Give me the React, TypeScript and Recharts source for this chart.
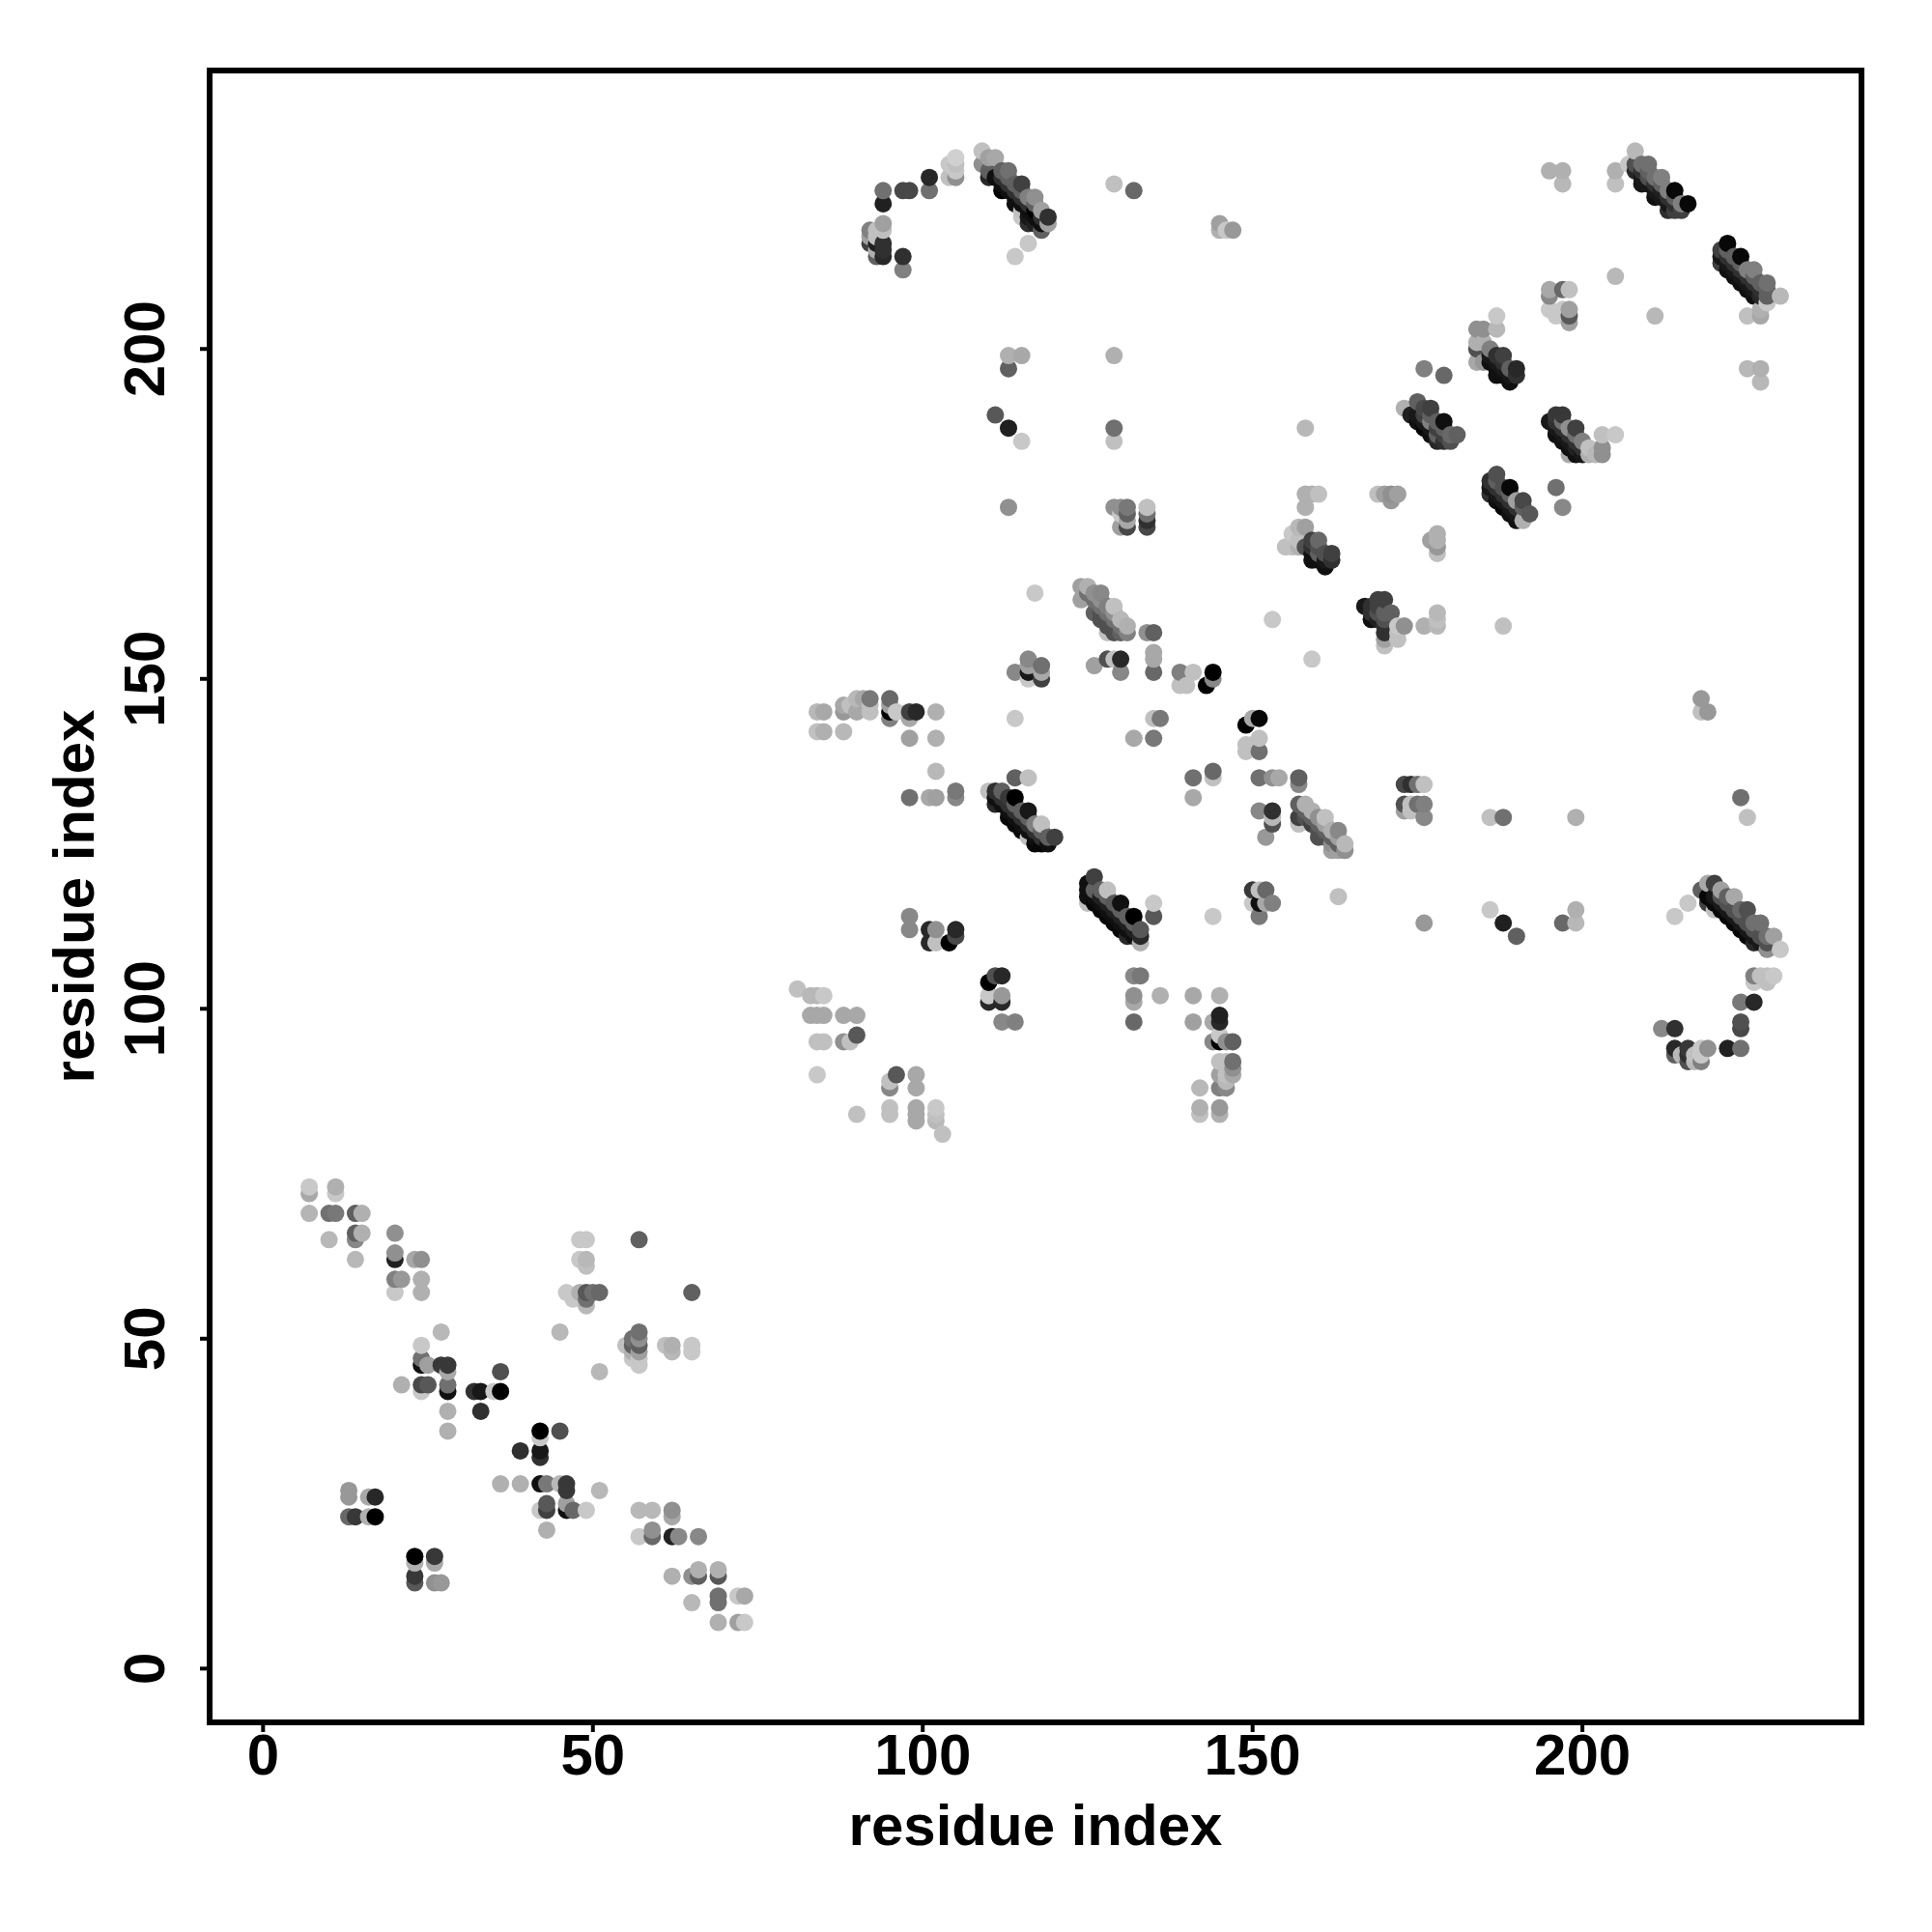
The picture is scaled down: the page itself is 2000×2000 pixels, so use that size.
import React from "react";
import { ScatterChart, Scatter, XAxis, YAxis, Cell, Label, ReferenceArea } from "recharts";

// Each contact: [residue i, residue j, shade 0 (black) .. 255 (white)]
type Contact = [number, number, number];

// Estimated contacts inside the dense diagonal bands, mostly covered by later points
const contactsBands: Contact[] = [
  [111,226,0x10],[112,225,0x10],[113,224,0x10],[114,223,0x10],[115,222,0x10],[116,221,0x10],[117,220,0x10],[118,219,0x10],
  [112,226,0x30],[113,225,0x30],[114,224,0x30],[115,223,0x30],[116,222,0x30],[117,221,0x30],[118,220,0x30],
  [113,226,0x60],[114,225,0x60],[115,224,0x60],[116,223,0x60],[117,222,0x60],[118,221,0x60],
  [209,226,0x18],[210,225,0x18],[211,224,0x18],[212,223,0x18],[213,222,0x18],[214,221,0x18],
  [209,227,0x30],[211,225,0x30],[212,224,0x30],[213,223,0x30],[214,222,0x30],[215,221,0x30],
  [210,227,0x60],[212,225,0x60],[213,224,0x60],[214,223,0x60],[215,222,0x60],
  [222,212,0x10],[224,210,0x10],[226,208,0x10],
  [221,214,0x18],[222,213,0x18],[223,212,0x18],[224,211,0x18],[225,210,0x18],[226,209,0x18],[227,208,0x18],
  [221,215,0x30],[222,214,0x30],[223,213,0x30],[224,212,0x30],[225,211,0x30],[226,210,0x30],[227,209,0x30],
  [222,215,0x60],[223,214,0x60],[224,213,0x60],[225,212,0x60],[226,211,0x60],[227,210,0x60],[228,209,0x60],
  [186,198,0x10],[187,197,0x10],[188,196,0x10],[189,195,0x10],
  [186,199,0x18],[187,198,0x18],[188,197,0x18],[189,196,0x18],
  [187,199,0x30],[188,198,0x30],[189,197,0x30],[190,196,0x30],
  [174,190,0x10],[175,189,0x10],[176,188,0x10],[177,187,0x10],[178,186,0x10],
  [175,190,0x18],[176,189,0x18],[177,188,0x18],[178,187,0x18],[179,186,0x18],
  [176,190,0x40],[177,189,0x40],[178,188,0x40],[179,187,0x40],[180,186,0x40],
  [177,190,0x60],[178,189,0x60],[179,188,0x60],[180,187,0x60],
  [196,187,0x10],[197,186,0x10],[198,185,0x10],[199,184,0x10],
  [195,189,0x18],[196,188,0x18],[197,187,0x18],[198,186,0x18],[199,185,0x18],[200,184,0x18],
  [196,189,0x30],[197,188,0x30],[198,187,0x30],[199,186,0x30],[200,185,0x30],
  [197,189,0x70],[198,188,0x70],[199,187,0x70],[200,186,0x70],
  [186,178,0x10],[187,177,0x10],[188,176,0x10],[189,175,0x10],[190,174,0x10],
  [186,179,0x18],[187,178,0x18],[188,177,0x18],[189,176,0x18],[190,175,0x18],[191,174,0x18],
  [186,180,0x30],[187,179,0x30],[188,178,0x30],[189,177,0x30],[190,176,0x30],
  [187,180,0x60],[188,179,0x60],[189,178,0x60],[190,177,0x60],[191,176,0x60],
  [159,169,0x10],[160,168,0x10],[159,170,0x30],[161,169,0x50],[160,170,0x50],
  [168,160,0x30],[169,159,0x20],[169,160,0x50],[170,158,0x30],[170,159,0x50],[169,161,0x40],
  [113,129,0x08],[114,128,0x08],[115,127,0x08],[116,126,0x08],[117,125,0x08],
  [111,132,0x10],[112,131,0x10],[113,130,0x10],[114,129,0x10],[115,128,0x10],[116,127,0x10],[117,126,0x10],[118,125,0x10],
  [112,132,0x30],[113,131,0x30],[114,130,0x30],[115,129,0x30],[116,128,0x30],[117,127,0x30],[118,126,0x30],[119,125,0x30],
  [114,131,0x60],[115,130,0x60],[116,129,0x60],[117,128,0x60],[118,127,0x60],[119,126,0x60],
  [125,117,0x08],[126,116,0x08],[127,115,0x08],[128,114,0x08],[129,113,0x08],[130,112,0x08],[131,111,0x08],
  [125,118,0x10],[126,117,0x10],[127,116,0x10],[128,115,0x10],[129,114,0x10],[130,113,0x10],[131,112,0x10],[132,111,0x10],
  [126,118,0x20],[127,117,0x20],[128,116,0x20],[129,115,0x20],[130,114,0x20],[131,113,0x20],[132,112,0x20],[133,111,0x20],
  [127,118,0x60],[128,117,0x60],[129,116,0x60],[130,115,0x60],[131,114,0x60],[132,113,0x60],
  [219,117,0x08],[220,116,0x08],[221,115,0x08],[222,114,0x08],[223,113,0x08],[224,112,0x08],[225,111,0x08],[226,110,0x08],
  [220,117,0x18],[221,116,0x18],[222,115,0x18],[223,114,0x18],[224,113,0x18],[225,112,0x18],[226,111,0x18],[227,110,0x18],
  [221,117,0x50],[222,116,0x50],[223,115,0x50],[224,114,0x50],[225,113,0x50],[226,112,0x50],[227,111,0x50],[228,110,0x50],
  [222,117,0x70],[224,115,0x70],[226,113,0x70],[228,111,0x70],
  [127,160,0x50],[128,159,0x50],[129,158,0x50],[125,163,0x70],[126,162,0x70],[127,161,0x70],[128,160,0x70],[129,159,0x70],[130,158,0x70],
  [126,163,0x90],[127,162,0x90],[128,161,0x90],[129,160,0x90],[130,159,0x90],[131,158,0x90],
  [158,130,0x60],[159,129,0x60],[160,128,0x60],[161,127,0x60],[162,126,0x60],[163,125,0x60],[164,124,0x60],
  [158,129,0x50],[159,128,0x50],[160,127,0x50],[161,126,0x50],[162,125,0x50],
  [160,129,0xa0],[161,128,0xa0],[162,127,0xa0],[163,126,0xa0],[164,125,0xa0],
];

const contactsN1: Contact[] = [
  [7,73,0xc8],[7,72,0xa8],[7,69,0xb5],[10,69,0x70],[11,69,0x78],[11,73,0xb0],[11,72,0xc8],[14,69,0x60],[15,69,0xb0],
  [10,65,0xb8],[14,66,0x60],[15,66,0xb0],[14,65,0x88],[14,62,0xb8],[20,66,0x90],[20,63,0x90],[20,62,0x20],[23,62,0xa8],[24,62,0x90],
  [20,59,0x80],[21,59,0x98],[24,59,0xb0],[24,57,0xb0],[20,57,0xc8],
  [48,65,0xc8],[49,65,0xc8],[48,62,0xc8],[49,62,0xb8],[49,61,0xc0],[46,57,0xc8],[47,56,0xc8],[48,57,0xb0],[49,57,0x58],[49,55,0xb8],[50,57,0x70],[51,57,0x68],[49,56,0x70],
  [57,65,0x60],[65,57,0x60],[45,51,0xb8],[55,49,0xc0],[56,50,0x70],[56,49,0x60],[56,48,0xb0],[57,51,0x70],[57,50,0x90],[57,49,0x60],[57,48,0xa0],[56,47,0xc8],[57,47,0xc8],[57,46,0xc8],
  [61,49,0xc0],[62,49,0xb0],[62,48,0xb8],[65,49,0xc8],[65,48,0xc8],[51,45,0xb8],
];
const contactsN2: Contact[] = [
  [27,51,0xb8],[24,49,0xc8],[24,47,0x70],[24,46,0x10],[25,46,0xa0],[27,46,0x38],[28,46,0x38],[28,45,0xa8],[21,43,0xb0],[24,43,0x48],[25,43,0x58],[24,42,0xc8],[28,43,0x70],[28,42,0x10],[28,39,0xb0],[28,36,0xb0],
  [32,42,0x30],[33,42,0x18],[35,42,0xc8],[36,42,0x00],[36,45,0x50],[33,39,0x30],[42,36,0x00],[45,36,0x50],[42,35,0xc8],[42,33,0x18],[42,32,0x30],[39,33,0x30],
  [36,28,0xb0],[39,28,0xb0],[42,28,0x10],[43,28,0x78],[45,28,0xb8],[46,28,0x38],[46,27,0x38],[51,27,0xb8],[43,25,0x58],[43,24,0x40],[42,24,0xc8],[46,25,0xa0],[46,24,0x10],[47,24,0x68],[49,24,0xc8],[43,21,0xb0],
  [57,24,0xb8],[59,24,0xb8],[62,24,0x90],[62,23,0xa8],[57,20,0xc8],[59,21,0x90],[59,20,0x68],[62,20,0x20],[63,20,0x88],[66,20,0x88],
  [62,14,0xb0],[65,14,0x90],[66,14,0x60],[66,15,0xb0],[69,15,0xb0],[69,14,0x58],[65,10,0xb8],[69,11,0x70],[69,10,0x70],[72,11,0xc8],[73,11,0xa8],[69,7,0xb0],[72,7,0xa0],[73,7,0xc8],
  [13,27,0x98],[13,26,0x98],[16,26,0xa8],[17,26,0x28],[13,23,0x68],[14,23,0x38],[16,23,0xb0],[17,23,0x00],
  [23,17,0x00],[26,17,0x38],[23,16,0xb0],[26,16,0xa8],[23,14,0x38],[23,13,0x58],[26,13,0x90],[27,13,0x98],
];
const contactsMid1: Contact[] = [
  [81,103,0xc0],[83,102,0xb8],[84,102,0xb8],[85,102,0xc8],[83,99,0xa8],[84,99,0xa8],[85,99,0xa8],[88,99,0xa8],[90,99,0xa8],
  [84,95,0xc0],[85,95,0xc0],[88,95,0x90],[89,95,0xc0],[90,96,0x58],[84,90,0xc8],[95,89,0xc0],[96,90,0x58],[95,88,0x88],[99,90,0xa8],[99,88,0xa8],
  [90,84,0xc0],[95,85,0xc0],[95,84,0xc0],[99,85,0xa8],[99,84,0xa8],[99,83,0xa8],[102,85,0xc8],[102,84,0xc0],[102,83,0xb8],[103,81,0xc0],
  [111,105,0x50],[112,105,0x28],[110,104,0x00],[110,102,0xc8],[112,102,0x98],[110,101,0x28],[112,101,0x28],[112,98,0x88],[114,98,0x80],
  [132,105,0x88],[133,105,0x78],[132,102,0x90],[132,101,0xa8],[132,98,0x68],[136,102,0xb0],[141,102,0xa8],[145,102,0xb0],
  [141,98,0xa0],[144,98,0xa8],[145,99,0x20],[145,98,0x28],[145,96,0xc8],[144,95,0x88],[145,95,0x00],[146,95,0x90],[147,95,0x60],
  [145,92,0xc0],[146,92,0xc0],[147,92,0x70],[147,91,0x90],[147,90,0xa8],[145,90,0xa0],[146,90,0xc0],[146,89,0xb8],[142,88,0xb8],[145,88,0x80],[146,88,0x88],
  [142,85,0xb0],[145,85,0x98],[142,84,0xc0],[145,84,0xb0],
  [84,145,0xb8],[85,145,0xa8],[84,142,0xc0],[85,142,0xb0],[88,142,0xb8],[88,146,0xa8],[88,145,0x98],[89,146,0xc0],[90,147,0xb8],[90,145,0xa8],[91,147,0xa8],[92,147,0x78],[92,145,0xc0],[92,146,0xc0],
  [95,147,0x68],[95,146,0xa0],[95,145,0x00],[95,144,0x80],[96,145,0xc8],[98,145,0x40],[99,145,0x28],[98,144,0xa8],[102,145,0xb0],[98,141,0xa0],[102,141,0xb0],[102,136,0xb8],
  [98,132,0x70],[101,132,0xa8],[102,132,0xa0],[105,133,0x78],[105,132,0x88],[114,144,0xc8],
  [98,114,0x88],[98,112,0x88],[101,112,0x28],[102,112,0x90],[101,110,0x28],[102,110,0xc0],[104,110,0x00],[105,112,0x28],[105,111,0x48],
];
const contactsTop: Contact[] = [
  [94,224,0x70],[94,222,0x20],[97,224,0x48],[98,224,0x48],[101,224,0x70],[101,226,0x28],[104,228,0xc8],[105,229,0xd0],[104,226,0xc0],[105,228,0xc0],[105,227,0xc8],[105,226,0x90],
  [109,230,0xc0],[109,228,0x90],[110,229,0xa0],[111,229,0xa8],[110,227,0x60],[110,226,0x28],[112,227,0x60],[113,227,0x70],[112,224,0x00],[112,225,0x10],[114,225,0x60],[115,225,0x40],[114,222,0x10],
  [116,223,0x80],[117,223,0x90],[118,221,0xa0],[119,220,0x30],[119,219,0xa0],[118,218,0x60],[116,219,0x30],[117,219,0x20],[115,221,0xc0],[115,220,0xc8],[116,220,0x18],[117,221,0x00],[116,216,0xc8],[114,214,0xc8],
  [92,218,0x80],[92,217,0xa0],[92,216,0x40],[93,218,0xc0],[94,219,0xa0],[94,218,0xc0],[93,217,0xc0],[93,216,0x20],[93,215,0xb0],[93,214,0x60],[94,216,0x30],[94,215,0x30],[94,214,0x28],[97,214,0x30],[97,212,0x80],
  [129,225,0xc0],[132,224,0x68],[145,219,0xa0],[145,218,0xb0],[146,218,0xc8],[147,218,0x98],
  [113,199,0xb0],[115,199,0xa8],[113,197,0x60],[129,199,0xb0],[111,190,0x58],[113,188,0x20],[115,186,0xc8],[129,188,0x70],[129,186,0xc0],[113,176,0x90],
  [129,176,0x90],[130,176,0x90],[131,176,0x78],[130,175,0xc8],[131,175,0x60],[130,173,0xa0],[131,174,0xa8],[131,173,0x48],[134,176,0xc0],[134,175,0x70],[134,174,0x30],[134,173,0x48],
];
const contactsUpperRight: Contact[] = [
  [208,230,0xb8],[207,228,0xc8],[205,227,0xb0],[205,225,0xc0],[195,227,0xb0],[197,227,0xb0],[197,225,0xb8],
  [208,228,0x50],[208,227,0x28],[209,228,0x70],[210,228,0x70],[209,225,0x18],[211,223,0x10],[212,226,0x80],[210,226,0x50],[211,226,0x70],[213,224,0x80],[214,224,0x08],[213,221,0x30],[214,221,0x40],[215,221,0x40],[216,222,0x08],[215,222,0x80],[212,224,0x20],
  [222,216,0x08],[221,215,0x40],[221,213,0x40],[224,214,0x08],[223,214,0x60],[225,212,0x80],[226,212,0x80],[223,211,0x10],[225,209,0x10],[228,210,0x70],[227,208,0x28],[228,208,0x60],[230,208,0xb8],[228,207,0xc8],[227,205,0xa8],[225,205,0xc0],[227,206,0xb0],[211,205,0xb8],[205,211,0xb8],
  [225,197,0xb8],[227,197,0xb0],[227,195,0xb8],
  [195,209,0xa8],[197,209,0x68],[198,209,0xc0],[195,208,0x88],[195,206,0xc8],[196,205,0xc8],[197,206,0xc8],[198,206,0xa0],[198,205,0x58],[198,204,0xa0],
  [187,205,0xc8],[187,203,0xb8],[184,203,0x90],[185,203,0x90],[184,201,0xb0],[185,201,0xb0],[184,200,0x50],[184,198,0xa8],[185,198,0x98],[186,200,0x80],[187,199,0x30],[188,199,0x40],[186,198,0x10],[187,196,0x10],[189,195,0x10],[190,197,0x28],[190,196,0x30],[189,197,0x60],
  [176,197,0x80],[179,196,0x68],[158,188,0xb8],
  [173,191,0xb0],[175,192,0x60],[176,191,0x48],[177,191,0x40],[174,190,0x20],[176,188,0x08],[177,189,0x80],[179,189,0x10],[178,187,0x60],[178,186,0x28],[179,186,0x30],[180,186,0x50],[181,187,0x60],[180,187,0x68],
  [195,189,0x18],[196,190,0x38],[197,190,0x38],[196,187,0x10],[199,188,0x40],[198,188,0x90],[200,186,0x80],[198,184,0xa8],[199,185,0x20],[201,185,0xc0],[201,184,0xb0],[202,184,0xb8],[203,187,0xc0],[205,187,0xc8],[203,184,0x90],[203,185,0x90],
  [187,181,0x50],[186,180,0x30],[186,178,0x30],[189,179,0x08],[188,179,0x50],[188,176,0x08],[190,177,0xa0],[191,177,0x48],[190,175,0x18],[192,175,0x58],[191,174,0xb0],[196,179,0x70],[197,176,0x88],
  [158,178,0xb0],[159,178,0xb0],[160,178,0xc0],[158,176,0xb0],[169,178,0xc0],[170,178,0xa0],[171,178,0x90],[172,178,0xa0],[171,177,0x98],
  [177,171,0xa0],[178,172,0xb0],[178,171,0xb0],[178,170,0x98],[178,169,0xc0],
  [158,173,0xa0],[157,173,0xb8],[159,171,0x40],[160,171,0x68],[159,168,0x10],[161,167,0x10],[162,169,0x40],[162,168,0x30],[161,168,0x18],[160,169,0x60],[158,170,0x50],[157,171,0xc0],
  [155,170,0xc0],[156,170,0xc0],[157,170,0xb0],[156,172,0xc8],
];
const contactsCentre: Contact[] = [
  [124,164,0xa0],[125,164,0xb0],[124,162,0xa0],[126,163,0x90],[127,163,0x88],[126,160,0x60],[128,161,0x80],[129,161,0xc0],[130,159,0xb8],[127,159,0x50],[128,158,0x50],[129,157,0x50],[131,158,0xb0],[128,157,0xc0],[130,157,0x60],[131,157,0x80],[134,157,0x90],[135,157,0x60],[117,163,0xc8],
  [114,151,0x88],[116,153,0x88],[116,151,0x18],[118,152,0x70],[116,150,0xc8],[118,150,0x40],[116,152,0xa0],[118,151,0xa8],
  [126,152,0xa0],[128,153,0x50],[129,153,0xc0],[130,153,0x28],[130,151,0x88],[135,154,0xa8],[135,153,0xa8],[135,151,0x68],
  [139,151,0x80],[141,151,0xc0],[139,149,0xc0],[140,149,0xc0],[143,149,0x00],[144,151,0x00],[144,150,0x88],[135,144,0xc0],[136,144,0x78],[132,141,0xa8],[135,141,0x78],
  [149,143,0x00],[150,144,0xa8],[151,144,0x08],[151,141,0xc0],[149,140,0xc0],[149,139,0xc0],[151,139,0x70],[150,140,0xc0],[159,153,0xc8],[153,159,0xc8],
  [169,162,0x40],[170,162,0x40],[167,161,0x18],[168,161,0x30],[168,159,0x10],[170,160,0x60],[171,160,0x60],[170,157,0x30],[170,156,0xa0],[170,155,0xc0],[172,158,0xc8],[173,158,0x90],[172,157,0xc0],[172,156,0xc0],[176,158,0xb0],[178,160,0xb8],[178,159,0xc0],[178,158,0xb8],[188,158,0xc0],
  [141,135,0x70],[144,136,0x68],[144,135,0xc0],[141,132,0xa8],[151,135,0x70],[153,135,0x90],[154,135,0xa8],[157,135,0x60],[157,134,0x88],[151,130,0x88],[153,130,0x30],[153,129,0xb8],[153,128,0x50],[152,126,0x98],
  [157,131,0x60],[158,131,0xb0],[159,130,0xb0],[160,129,0x90],[161,129,0xc0],[157,129,0x40],[157,128,0xc0],[159,128,0x40],[160,126,0x50],[162,127,0xb0],[163,127,0x88],[162,125,0x90],[162,124,0xa0],[164,125,0xb8],[164,124,0x90],[163,124,0xa0],
  [173,134,0x48],[174,134,0x30],[175,134,0x70],[176,134,0xc0],[173,131,0x50],[173,130,0xa0],[174,131,0xc0],[175,131,0x70],[176,131,0x80],[176,129,0x88],[174,130,0xc0],
];
const contactsLowerRight: Contact[] = [
  [186,129,0xc0],[188,129,0x70],[199,129,0xb0],[224,132,0x70],[225,129,0xc0],[218,147,0x98],[218,145,0xc0],[219,145,0x98],
  [186,115,0xc8],[188,113,0x20],[190,111,0x60],[197,113,0x68],[199,115,0xb0],[199,113,0xb8],[214,114,0xc8],[216,116,0xc8],
  [218,118,0x60],[219,119,0xa8],[220,119,0x40],[221,118,0xa0],[222,117,0x60],[223,117,0xa8],[219,116,0x40],[220,115,0xc0],[222,114,0x08],[224,115,0x68],[225,115,0x50],[224,112,0x08],[227,113,0x70],[226,110,0x28],[229,111,0xa0],[228,109,0x90],[230,109,0xc8],
  [226,105,0x80],[227,105,0xc0],[228,105,0xc0],[229,105,0xc8],[226,104,0xc8],[228,104,0xc0],[224,101,0x78],[226,101,0x28],[224,98,0x50],[224,97,0x48],[212,97,0x88],[214,97,0x30],
  [214,94,0x28],[214,93,0x60],[216,94,0x38],[215,93,0xb8],[216,93,0x30],[216,92,0x50],[217,93,0xc0],[218,94,0xc8],[218,93,0xc8],[218,92,0x80],[217,92,0xb8],[219,94,0x90],[222,94,0x20],[224,94,0x70],
];
const contactsStrands: Contact[] = [
  [114,135,0x60],[116,135,0xc0],[110,133,0xc0],[111,133,0x30],[112,133,0x60],[111,131,0x28],[113,132,0x38],[114,132,0x00],[113,129,0x08],[116,130,0x18],[115,130,0x60],[118,128,0xc0],[117,128,0x80],[115,127,0x08],[119,126,0x60],[120,126,0x40],[117,125,0x08],[118,125,0x08],[119,125,0x10],[116,126,0xc0],
  [126,120,0x40],[125,119,0x10],[125,117,0x10],[126,118,0x60],[128,118,0xc0],[127,115,0x08],[129,116,0x58],[130,116,0x10],[129,113,0x08],[132,114,0x00],[131,114,0x60],[131,111,0x28],[133,112,0x58],[133,111,0x28],[133,110,0xb0],[125,116,0xc0],
  [135,116,0xc8],[135,114,0x58],[144,114,0xc8],[150,118,0x38],[151,118,0xc0],[152,118,0x68],[150,116,0xc8],[151,116,0x10],[153,116,0x80],[151,114,0x78],[152,116,0xa8],[163,117,0xc0],[176,113,0x98],
];

const xTicks = [0, 50, 100, 150, 200];
const yTicks = [0, 50, 100, 150, 200];
const xTitle = "residue index";
const yTitle = "residue index";

// Read contacts win over the estimated ones at the same cell.
const seen = new Set<string>();
const points = [
  ...contactsN1, ...contactsN2, ...contactsMid1, ...contactsTop,
  ...contactsUpperRight, ...contactsCentre, ...contactsLowerRight, ...contactsStrands, ...contactsBands,
]
  .filter(([x, y]) => {
    const k = `${x}:${y}`;
    if (seen.has(k)) return false;
    seen.add(k);
    return true;
  })
  .map(([x, y, shade]) => ({ x, y, shade }))
  .sort((a, b) => a.x - b.x || a.y - b.y);

const font = "'Liberation Sans', Arial, Helvetica, sans-serif";
const grey = (v: number) => `rgb(${v},${v},${v})`;

const XTick = ({ x, y, payload }: any) => (
  <text x={x} y={y + 26} textAnchor="middle" dominantBaseline="middle" fontFamily={font} fontWeight={700} fontSize={60} fill="#000">
    {payload.value}
  </text>
);
const YTick = ({ y, payload }: any) => (
  <text x={154} y={y} transform={`rotate(-90 154 ${y})`} textAnchor="middle" dominantBaseline="middle" fontFamily={font} fontWeight={700} fontSize={60} fill="#000">
    {payload.value}
  </text>
);
const Dot = (p: any) => <circle cx={p.cx} cy={p.cy} r={9} fill={p.fill} />;

export default function App() {
  return (
    <div style={{ position: "absolute", left: 0, top: 0, width: 2000, height: 2000, background: "#fff" }}>
      <ScatterChart width={2000} height={2000} margin={{ top: 73, right: 73, bottom: 0, left: 0 }}>
        <XAxis
          type="number" dataKey="x" domain={[-8.1, 242.3]} ticks={xTicks} allowDataOverflow
          height={217} axisLine={false} tickLine={{ stroke: "#000", strokeWidth: 4 }} tickSize={10} tick={<XTick />} interval={0}
        >
          <Label value={xTitle} position="insideBottom" offset={90} fontFamily={font} fontWeight={700} fontSize={60} fill="#000" />
        </XAxis>
        <YAxis
          type="number" dataKey="y" domain={[-8.15, 242.2]} ticks={yTicks} allowDataOverflow
          width={217} axisLine={false} tickLine={{ stroke: "#000", strokeWidth: 4 }} tickSize={10} tick={<YTick />} interval={0}
        >
          <Label value={yTitle} angle={-90} position="insideLeft" offset={76} fontFamily={font} fontWeight={700} fontSize={60} fill="#000" style={{ textAnchor: "middle" }} />
        </YAxis>
        <Scatter data={points} isAnimationActive={false} shape={<Dot />}>
          {points.map((p, i) => (
            <Cell key={i} fill={grey(p.shade)} />
          ))}
        </Scatter>
        <ReferenceArea x1={-8.1} x2={242.3} y1={-8.15} y2={242.2} fill="none" stroke="#000" strokeWidth={6} ifOverflow="visible" />
      </ScatterChart>
    </div>
  );
}
